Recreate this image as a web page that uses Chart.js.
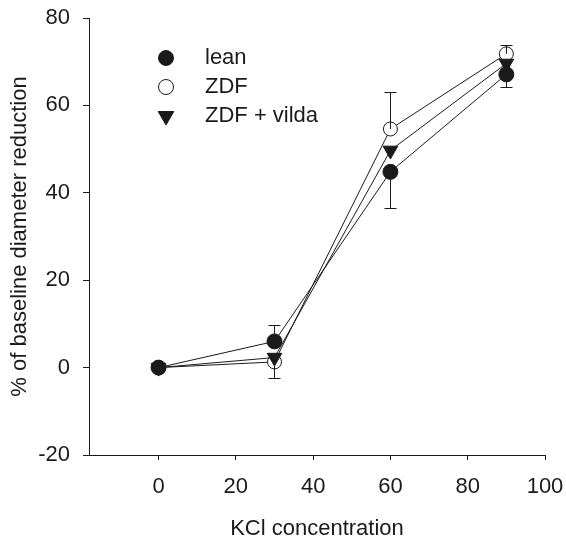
<!DOCTYPE html>
<html>
<head>
<meta charset="utf-8">
<script src="https://cdn.jsdelivr.net/npm/chart.js@4/dist/chart.umd.min.js"></script>
<style>
  body { margin: 0; background: #fff; }
  #wrap { width: 566px; height: 540px; }
</style>
</head>
<body>
<div id="wrap"><canvas id="myChart"></canvas></div>
<script>
// data
var conc = [0, 30, 60, 90];
var lean = [0, 6, 44.8, 67.1];
var zdf = [0, 1.3, 54.6, 71.8];
var vilda = [0, 2.3, 49.7, 69.6];

// SEM bars, only one side is shown in the figure
var leanErrUp = [0, 3.7, 0, 0];
var leanErrDown = [0, 0, 8.3, 2.8];
var zdfErrUp = [0, 0, 8.4, 2.1];
var zdfErrDown = [0, 3.7, 0, 0];

var xTicks = [0, 20, 40, 60, 80, 100];
var yTicks = [-20, 0, 20, 40, 60, 80];

var ink = '#1a1a1a';
var font = 'Liberation Sans, Arial, sans-serif';

function pts(ys) {
  return conc.map((x, i) => ({ x: x, y: ys[i] }));
}

// error bars + legend drawn by hand
var extras = {
  id: 'extras',
  afterDatasetsDraw(chart) {
    var c = chart.ctx;
    var xs = chart.scales.x, ys = chart.scales.y;
    var sets = [
      [lean, leanErrUp, leanErrDown],
      [zdf, zdfErrUp, zdfErrDown]
    ];
    c.save();
    c.strokeStyle = ink;
    c.lineWidth = 1;
    sets.forEach(s => {
      conc.forEach((x, i) => {
        var px = Math.round(xs.getPixelForValue(x)) + 0.5;
        [[s[1][i], 1], [s[2][i], -1]].forEach(e => {
          if (!e[0]) return;
          var y0 = ys.getPixelForValue(s[0][i]);
          var y1 = Math.round(ys.getPixelForValue(s[0][i] + e[1] * e[0])) + 0.5;
          c.beginPath();
          c.moveTo(px, y0);
          c.lineTo(px, y1);
          c.moveTo(px - 6, y1);
          c.lineTo(px + 6, y1);
          c.stroke();
        });
      });
    });
    c.restore();
  },
  afterDraw(chart) {
    var c = chart.ctx;
    var rows = [58, 87, 116];
    chart.data.datasets.forEach((ds, i) => {
      c.save();
      c.fillStyle = ds.pointBackgroundColor;
      c.strokeStyle = ink;
      c.lineWidth = 1;
      Chart.helpers.drawPoint(c, {
        pointStyle: ds.pointStyle,
        radius: ds.pointStyle === 'triangle' ? 9 : 7.5,
        rotation: ds.pointRotation || 0,
        borderWidth: 1
      }, 166, rows[i]);
      c.fillStyle = ink;
      c.font = '22px ' + font;
      c.textBaseline = 'middle';
      c.fillText(ds.label, 205, rows[i]);
      c.restore();
    });
  }
};

var ctx = document.getElementById('myChart').getContext('2d');

var myChart = new Chart(ctx, {
  type: 'line',
  data: {
    datasets: [{
      label: 'lean',
      data: pts(lean),
      borderColor: ink,
      borderWidth: 1,
      pointStyle: 'circle',
      pointRadius: 7.5,
      pointBackgroundColor: ink,
      pointBorderColor: ink,
      order: 1
    }, {
      label: 'ZDF',
      data: pts(zdf),
      borderColor: ink,
      borderWidth: 1,
      pointStyle: 'circle',
      pointRadius: 7,
      pointBackgroundColor: '#fff',
      pointBorderColor: ink,
      order: 3
    }, {
      label: 'ZDF + vilda',
      data: pts(vilda),
      borderColor: ink,
      borderWidth: 1,
      pointStyle: 'triangle',
      pointRotation: 180,
      pointRadius: 8.5,
      pointBackgroundColor: ink,
      pointBorderColor: ink,
      order: 2
    }]
  },
  options: {
    responsive: true,
    maintainAspectRatio: false,
    animation: false,
    layout: { padding: { top: 18, right: 21, bottom: 0, left: 0 } },
    plugins: {
      legend: { display: false },
      tooltip: { enabled: false }
    },
    scales: {
      x: {
        type: 'linear',
        min: -18,
        max: 100,
        afterBuildTicks: s => { s.ticks = xTicks.map(v => ({ value: v })); },
        afterFit: s => { s.height = 85; s.paddingLeft = 0; s.paddingRight = 0; },
        border: { display: true, color: ink, width: 1 },
        grid: { display: true, drawOnChartArea: false, tickLength: 5, color: ink },
        ticks: { color: ink, font: { family: font, size: 22 }, padding: 14, maxRotation: 0 },
        title: {
          display: true,
          text: 'KCl concentration',
          color: ink,
          font: { family: font, size: 22, lineHeight: 1 },
          padding: 0
        }
      },
      y: {
        min: -20,
        max: 80,
        afterBuildTicks: s => { s.ticks = yTicks.map(v => ({ value: v })); },
        afterFit: s => { s.width = 89; s.paddingTop = 0; s.paddingBottom = 0; },
        border: { display: true, color: ink, width: 1 },
        grid: { display: true, drawOnChartArea: false, tickLength: 6, color: ink },
        ticks: { color: ink, font: { family: font, size: 22 }, padding: 13 },
        title: {
          display: true,
          text: '% of baseline diameter reduction',
          color: ink,
          font: { family: font, size: 22, lineHeight: 1.2 },
          padding: { top: 7, bottom: 0 }
        }
      }
    }
  },
  plugins: [extras]
});
</script>
</body>
</html>
